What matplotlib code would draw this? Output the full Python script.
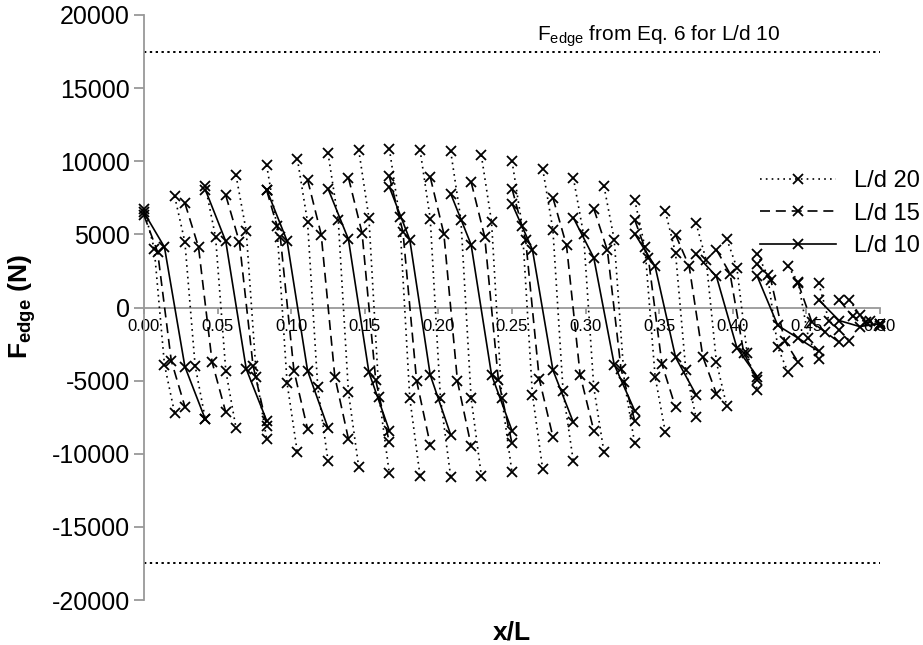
import numpy as np
import matplotlib
matplotlib.use('Agg')
import matplotlib.pyplot as plt
from matplotlib.lines import Line2D

plt.rcParams['font.family'] = ['Liberation Sans', 'DejaVu Sans']
plt.rcParams['mathtext.fontset'] = 'custom'
plt.rcParams['mathtext.rm'] = 'Liberation Sans'
plt.rcParams['mathtext.bf'] = 'Liberation Sans:bold'
plt.rcParams['axes.unicode_minus'] = False

# edge force per span segment, 4 stations per segment, x/L from 0 to 0.5
ld20_segments = [
    [6750, 4020, -3900, -7240], [7600, 4475, -3970, -7650],
    [8290, 4820, -4315, -8240], [9040, 5230, -4770, -8990],
    [9725, 5550, -5180, -9910], [10180, 5845, -5460, -10480],
    [10570, 6005, -5800, -10890], [10800, 6140, -6100, -11350],
    [10870, 6185, -6185, -11500], [10800, 6075, -6185, -11575],
    [10700, 6005, -6185, -11500], [10410, 5845, -6185, -11280],
    [10020, 5550, -5960, -11050], [9500, 5320, -5730, -10525],
    [8880, 5000, -5460, -9910], [8290, 4635, -5120, -9290],
    [7375, 4130, -4725, -8540], [6575, 3720, -4270, -7510],
    [5775, 3220, -3745, -6710], [4705, 2715, -3130, -5640],
    [3675, 2190, -2720, -4430], [2810, 1735, -2075, -3510],
    [1665, -890, -1530, -2260], [525, -480, -935, -1235],
]
ld15_segments = [
    [6300, 3790, -3630, -6780], [7140, 4130, -3740, -7170],
    [7670, 4475, -3970, -8080], [8010, 4820, -4315, -8310],
    [8745, 4990, -4725, -8990], [8880, 5090, -4955, -9225],
    [8970, 5160, -5000, -9380], [8925, 5045, -5050, -9450],
    [8585, 4820, -4955, -9290], [8130, 4635, -4885, -8835],
    [7510, 4245, -4610, -8420], [6760, 3900, -4200, -7740],
    [6005, 3400, -3860, -6830], [4975, 2810, -3360, -5910],
    [3950, 2305, -3080, -4955], [2945, 1850, -2260, -3745],
    [1650, -1000, -1690, -2370], [525, -615, -1000, -1120],
]
ld10_segments = [
    [6500, 4130, -4040, -7650], [8060, 4520, -4200, -7740],
    [8060, 4540, -4315, -8240], [8130, 4660, -4430, -8420],
    [8240, 4635, -4610, -8700], [7790, 4295, -4610, -8420],
    [7100, 3950, -4270, -7850], [6140, 3400, -3900, -7050],
    [5050, 2810, -3400, -5960], [3630, 2120, -2760, -4730],
    [2120, -1230, -2100, -2990], [525, -890, -1300, -1120],
]
f_edge_limit = 17500
x_ticks = [0.00, 0.05, 0.10, 0.15, 0.20, 0.25, 0.30, 0.35, 0.40, 0.45, 0.50]
y_ticks = [-20000, -15000, -10000, -5000, 0, 5000, 10000, 15000, 20000]

series = [
    ('L/d 20', ld20_segments, (0, (1, 2.5))),
    ('L/d 15', ld15_segments, (0, (6, 3.5))),
    ('L/d 10', ld10_segments, '-'),
]

fig = plt.figure(figsize=(9.23, 6.45), dpi=100)
ax = fig.add_axes([144 / 923, 1 - 600 / 645, 736 / 923, 585 / 645])

handles = []
for label, segs, ls in series:
    n = len(segs)
    # stations along half span; neighbouring segments share the boundary station
    xs = np.linspace(0, 0.5, 3 * n + 1)
    for k, seg in enumerate(segs):
        ax.plot(xs[3 * k:3 * k + 4], seg, color='black', linestyle=ls, lw=1.2,
                marker='x', ms=7, mew=1.3, clip_on=False, zorder=3)
    handles.append(Line2D([], [], color='black', linestyle=ls, lw=1.2,
                          marker='x', ms=7, mew=1.3, label=label))

for yv in (f_edge_limit, -f_edge_limit):
    ax.axhline(yv, color='black', linestyle=(0, (1.2, 1.8)), lw=1.4, zorder=2)

ax.text(0.267, 18250, r'F$_{\rm edge}$ from Eq. 6 for L/d 10', fontsize=15,
        ha='left', va='baseline')

ax.set_xlim(0, 0.5)
ax.set_ylim(-20000, 20000)
ax.set_xticks(x_ticks)
ax.set_xticklabels([f'{v:.2f}' for v in x_ticks])
ax.set_yticks(y_ticks)

for s in ('top', 'right'):
    ax.spines[s].set_visible(False)
ax.spines['bottom'].set_position(('data', 0))
for s in ('left', 'bottom'):
    ax.spines[s].set_color('#999999')
    ax.spines[s].set_linewidth(1.3)
ax.tick_params(axis='y', colors='#999999', labelcolor='black', labelsize=18,
               length=7, width=1.3, pad=3)
ax.tick_params(axis='x', colors='#999999', labelcolor='black', labelsize=12,
               length=4, width=1.3, pad=4)
ax.patch.set_visible(False)

fig.text(512 / 923, 1 - 632 / 645, 'x/L', fontsize=19, fontweight='bold',
         ha='center', va='center')
fig.text(22 / 923, 1 - 307 / 645, r'$\mathbf{F_{edge}}$ (N)', fontsize=19,
         fontweight='bold', rotation=90, ha='center', va='center')

fig.legend(handles=handles, loc='upper left', bbox_to_anchor=(760 / 923, 1 - 170 / 645),
           frameon=False, fontsize=17, handlelength=3.2, handletextpad=0.8,
           labelspacing=0.45, borderpad=0, borderaxespad=0)

fig.savefig('out.png', dpi=100)
